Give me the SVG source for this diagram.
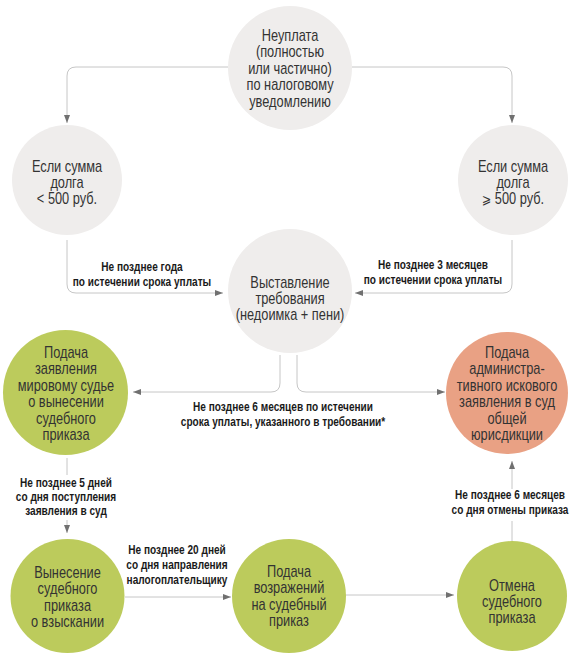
<svg xmlns="http://www.w3.org/2000/svg" width="580" height="655" viewBox="0 0 580 655">
<style>
.t{font-family:"Liberation Sans",Arial,sans-serif;font-size:16px;fill:#333333;text-anchor:middle}
.l{font-family:"Liberation Sans",Arial,sans-serif;font-size:12px;font-weight:bold;fill:#1a1a1a;text-anchor:middle}
.g{fill:#efedec}
.gr{fill:#bccb5c}
.s{fill:#e9a184}
.c{fill:none;stroke:#c6c6c6;stroke-width:1}
.ca{fill:none;stroke:#c6c6c6;stroke-width:1;marker-end:url(#ah)}
</style>
<defs>
<marker id="ah" markerUnits="userSpaceOnUse" markerWidth="9" markerHeight="7" refX="8" refY="3.5" orient="auto">
<path d="M0,0.5 L8,3.5 L0,6.5 Z" fill="#707070"/>
</marker>
</defs>
<rect width="580" height="655" fill="#ffffff"/>
<g id="connectors">
<path class="ca" d="M228,67 H76 Q67,67 67,76 V123"/>
<path class="ca" d="M352,67 H503 Q512,67 512,76 V123"/>
<path class="ca" d="M67,240 V284 Q67,293 76,293 H223"/>
<path class="ca" d="M512,240 V284 Q512,293 503,293 H355"/>
<path class="ca" d="M280,355 V383 Q280,392 271,392 H133"/>
<path class="ca" d="M297,355 V383 Q297,392 306,392 H445"/>
<path class="c" d="M67,458 V475"/>
<path class="ca" d="M67,520 V533"/>
<path class="ca" d="M125,597 H231"/>
<path class="ca" d="M345,595 H454"/>
<path class="c" d="M512,541 V521"/>
<path class="ca" d="M512,489 V461"/>
</g>
<g id="labels">
<g transform="translate(142 0) scale(0.84 1)">
<text class="l" x="0" y="271">Не позднее года</text>
<text class="l" x="0" y="286">по истечении срока уплаты</text>
</g>
<g transform="translate(433 0) scale(0.84 1)">
<text class="l" x="0" y="269">Не позднее 3 месяцев</text>
<text class="l" x="0" y="284">по истечении срока уплаты</text>
</g>
<g transform="translate(283 0) scale(0.84 1)">
<text class="l" x="0" y="411">Не позднее 6 месяцев по истечении</text>
<text class="l" x="0" y="426">срока уплаты, указанного в требовании*</text>
</g>
<g transform="translate(66 0) scale(0.84 1)">
<text class="l" x="0" y="487">Не позднее 5 дней</text>
<text class="l" x="0" y="501">со дня поступления</text>
<text class="l" x="0" y="515">заявления в суд</text>
</g>
<g transform="translate(177 0) scale(0.84 1)">
<text class="l" x="0" y="554">Не позднее 20 дней</text>
<text class="l" x="0" y="569">со дня направления</text>
<text class="l" x="0" y="584">налогоплательщику</text>
</g>
<g transform="translate(510 0) scale(0.84 1)">
<text class="l" x="0" y="499">Не позднее 6 месяцев</text>
<text class="l" x="0" y="514">со дня отмены приказа</text>
</g>
</g>
<g id="n-top">
<circle class="g" cx="290" cy="68" r="62"/>
<g transform="translate(290 0) scale(0.8 1)">
<text class="t" x="0" y="41">Неуплата</text>
<text class="t" x="0" y="57.5">(полностью</text>
<text class="t" x="0" y="74">или частично)</text>
<text class="t" x="0" y="90.5">по налоговому</text>
<text class="t" x="0" y="107">уведомлению</text>
</g>
</g>
<g id="n-less">
<circle class="g" cx="67" cy="180" r="55"/>
<g transform="translate(67 0) scale(0.8 1)">
<text class="t" x="0" y="172">Если сумма</text>
<text class="t" x="0" y="188">долга</text>
<text class="t" x="0" y="204">&lt; 500 руб.</text>
</g>
</g>
<g id="n-more">
<circle class="g" cx="513" cy="180" r="55"/>
<g transform="translate(513 0) scale(0.8 1)">
<text class="t" x="0" y="172">Если сумма</text>
<text class="t" x="0" y="188">долга</text>
<text class="t" x="0" y="204"><tspan style="font-family:'DejaVu Sans',sans-serif;font-size:14px">⩾</tspan> 500 руб.</text>
</g>
</g>
<g id="n-demand">
<circle class="g" cx="290" cy="291" r="62"/>
<g transform="translate(290 0) scale(0.8 1)">
<text class="t" x="0" y="288">Выставление</text>
<text class="t" x="0" y="304">требования</text>
<text class="t" x="0" y="320">(недоимка + пени)</text>
</g>
</g>
<g id="n-magistrate">
<circle class="gr" cx="65.5" cy="392.5" r="62.5"/>
<g transform="translate(66 0) scale(0.8 1)">
<text class="t" x="0" y="358">Подача</text>
<text class="t" x="0" y="374.5">заявления</text>
<text class="t" x="0" y="391">мировому судье</text>
<text class="t" x="0" y="407.5">о вынесении</text>
<text class="t" x="0" y="424">судебного</text>
<text class="t" x="0" y="440">приказа</text>
</g>
</g>
<g id="n-lawsuit">
<circle class="s" cx="507" cy="393" r="61"/>
<g transform="translate(507 0) scale(0.8 1)">
<text class="t" x="0" y="358">Подача</text>
<text class="t" x="0" y="374.5">администра-</text>
<text class="t" x="0" y="391">тивного искового</text>
<text class="t" x="0" y="407.5">заявления в суд</text>
<text class="t" x="0" y="424">общей</text>
<text class="t" x="0" y="440">юрисдикции</text>
</g>
</g>
<g id="n-order">
<circle class="gr" cx="67.5" cy="596" r="57"/>
<g transform="translate(67.5 0) scale(0.8 1)">
<text class="t" x="0" y="578">Вынесение</text>
<text class="t" x="0" y="594.5">судебного</text>
<text class="t" x="0" y="611">приказа</text>
<text class="t" x="0" y="627.5">о взыскании</text>
</g>
</g>
<g id="n-objection">
<circle class="gr" cx="289" cy="596" r="57"/>
<g transform="translate(289 0) scale(0.8 1)">
<text class="t" x="0" y="577">Подача</text>
<text class="t" x="0" y="593.5">возражений</text>
<text class="t" x="0" y="610">на судебный</text>
<text class="t" x="0" y="626.5">приказ</text>
</g>
</g>
<g id="n-cancel">
<circle class="gr" cx="512" cy="596" r="55"/>
<g transform="translate(512 0) scale(0.8 1)">
<text class="t" x="0" y="591">Отмена</text>
<text class="t" x="0" y="607">судебного</text>
<text class="t" x="0" y="623">приказа</text>
</g>
</g>
</svg>
